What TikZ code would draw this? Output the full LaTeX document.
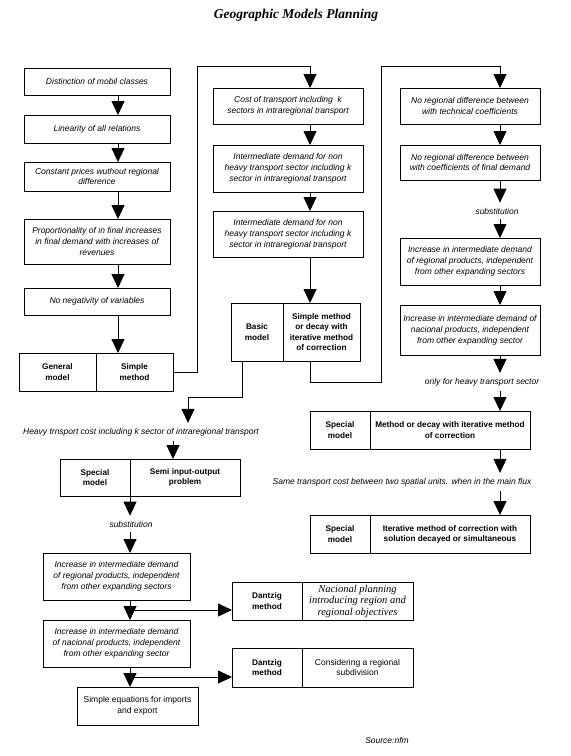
\documentclass[tikz,border=0pt]{standalone}
\usepackage{fontspec}
\setmainfont{Liberation Sans}
\newfontfamily\titlefont{Liberation Serif}
\usetikzlibrary{arrows.meta, positioning, calc}

\begin{document}
\begin{tikzpicture}[x=1pt, y=-1pt,
    box/.style={draw, line width=0.8pt, outer sep=0pt, inner sep=1pt, align=center, anchor=north west,
        font=\fontsize{8.5}{10.8}\selectfont\itshape},
    cell/.style={box, font=\fontsize{8.2}{10.2}\selectfont\bfseries},
    txt/.style={inner sep=5pt, font=\fontsize{8.5}{10.8}\selectfont\itshape},
    arr/.style={line width=0.8pt, -{Triangle[width=13pt, length=14pt]}}]

    \useasboundingbox (0,0) rectangle (571,756);

    % Title
    \node (title) at (296,15) {\titlefont\fontsize{13.5}{15}\selectfont\bfseries\itshape Geographic Models Planning};

    % columns of the arrows
    \coordinate (xl) at (118,0);
    \coordinate (xm) at (310,0);
    \coordinate (xr) at (500,0);
    \coordinate (xb) at (242,0);
    \coordinate (xs) at (173,0);
    \coordinate (xq) at (130,0);

    % Left column
    \node[box, minimum width=146, minimum height=27] (b1) at (24,68) {Distinction of mobil classes};
    \node[box, minimum width=146, minimum height=28] (b2) at (24,115) {Linearity of all relations};
    \node[box, minimum width=146, minimum height=29] (b3) at (24,162) {Constant prices wuthout regional\\difference};
    \node[box, minimum width=146, minimum height=45] (b4) at (24,219) {Proportionality of in final increases\\in final demand with increases of\\revenues};
    \node[box, minimum width=146, minimum height=27] (b5) at (24,288) {No negativity of variables};
    \node[cell, minimum width=77, minimum height=38] (gm1) at (19,353) {General\\model};
    \node[cell, minimum width=77, minimum height=38] (gm2) at (gm1.north east) {Simple\\method};

    \draw[arr] (b1.south -| xl) -- (b2.north -| xl);
    \draw[arr] (b2.south -| xl) -- (b3.north -| xl);
    \draw[arr] (b3.south -| xl) -- (b4.north -| xl);
    \draw[arr] (b4.south -| xl) -- (b5.north -| xl);
    \draw[arr] (b5.south -| xl) -- (gm2.north -| xl);

    % Middle column
    \node[box, minimum width=150, minimum height=36] (c1) at (213,88) {Cost of transport including~ k\\sectors in intraregional transport};
    \node[box, minimum width=150, minimum height=47] (c2) at (213,145) {Intermediate demand for non\\heavy transport sector including k\\sector in intraregional transport};
    \node[box, minimum width=150, minimum height=46] (c3) at (213,211) {Intermediate demand for non\\heavy transport sector including k\\sector in intraregional transport};
    \node[cell, minimum width=52, minimum height=58] (bas1) at (231,303) {Basic\\model};
    \node[cell, minimum width=77, minimum height=58] (bas2) at (bas1.north east) {Simple method\\or decay with\\iterative method\\of correction};

    \coordinate (ltop) at (197,66);
    \draw[arr] (gm2.east) -| (ltop) -| (c1.north -| xm);
    \draw[arr] (c1.south -| xm) -- (c2.north -| xm);
    \draw[arr] (c2.south -| xm) -- (c3.north -| xm);
    \draw[arr] (c3.south -| xm) -- (bas2.north -| xm);

    % Right column
    \node[box, minimum width=140, minimum height=36] (r1) at (400,88) {No regional difference between\\with technical coefficients};
    \node[box, minimum width=140, minimum height=35] (r2) at (400,145) {No regional difference between\\with coefficients of final demand};
    \node[txt] (sub1) at (497,211) {substitution};
    \node[box, minimum width=140, minimum height=47] (r3) at (400,238) {Increase in intermediate demand\\of regional products, independent\\from other expanding sectors};
    \node[box, minimum width=140, minimum height=50] (r4) at (400,305) {Increase in intermediate demand of\\nacional products, independent\\from other expanding sector};
    \node[txt] (only) at (482,382) {only for heavy transport sector};
    \node[cell, minimum width=60, minimum height=38] (sp1a) at (310,411) {Special\\model};
    \node[cell, minimum width=160, minimum height=38] (sp1b) at (sp1a.north east) {Method or decay with iterative method\\of correction};
    \node[txt] (same) at (402,482) {Same transport cost between two spatial units. when in the main flux};
    \node[cell, minimum width=60, minimum height=38] (sp2a) at (310,515) {Special\\model};
    \node[cell, minimum width=160, minimum height=38] (sp2b) at (sp2a.north east) {Iterative method of correction with\\solution decayed or simultaneous};

    \coordinate (rbot) at (381,382);
    \coordinate (rtop) at (381,66);
    \draw[arr] (bas2.south -| xm) |- (rbot) -- (rtop) -| (r1.north -| xr);
    \draw[arr] (r1.south -| xr) -- (r2.north -| xr);
    \draw[arr] (r2.south -| xr) -- (sub1.north -| xr);
    \draw[arr] (sub1.south -| xr) -- (r3.north -| xr);
    \draw[arr] (r3.south -| xr) -- (r4.north -| xr);
    \draw[arr] (r4.south -| xr) -- (only.north -| xr);
    \draw[arr] (only.south -| xr) -- (sp1b.north -| xr);
    \draw[arr] (sp1b.south -| xr) -- (same.north -| xr);
    \draw[arr] (same.south -| xr) -- (sp2b.north -| xr);

    % Lower left
    \node[txt] (heavy) at (141,432) {Heavy trnsport cost including k sector of intraregional transport};
    \node[cell, minimum width=70, minimum height=37] (sio1) at (60,459) {Special\\model};
    \node[cell, minimum width=110, minimum height=37] (sio2) at (sio1.north east) {Semi input-output\\problem};
    \node[txt] (sub2) at (131,524) {substitution};
    \node[box, minimum width=147, minimum height=47] (l1) at (43,553) {Increase in intermediate demand\\of regional products, independent\\from other expanding sectors};
    \node[box, minimum width=147, minimum height=47] (l2) at (43,620) {Increase in intermediate demand\\of nacional products, independent\\from other expanding sector};
    \node[box, minimum width=121, minimum height=38, font=\fontsize{8.5}{10.8}\selectfont] (l3) at (77,687) {Simple equations for imports\\and export};
    \node[cell, minimum width=70, minimum height=38] (d1a) at (232,582) {Dantzig\\method};
    \node[box, minimum width=111, minimum height=38, font=\titlefont\fontsize{10.5}{11.5}\selectfont\itshape] (d1b) at (d1a.north east) {Nacional planning\\introducing region and\\regional objectives};
    \node[cell, minimum width=70, minimum height=39] (d2a) at (232,648) {Dantzig\\method};
    \node[box, minimum width=111, minimum height=39, font=\fontsize{8.5}{10.8}\selectfont] (d2b) at (d2a.north east) {Considering a regional\\subdivision};
    \node[txt] (source) at (387,740) {Source:nfm};

    \coordinate (bbot) at (188,397);
    \draw[arr] (bas1.south -| xb) |- (bbot) -- (heavy.north -| bbot);
    \draw[arr] (heavy.south -| xs) -- (sio2.north -| xs);
    \draw[arr] (sio1.south east) -- (sub2.north -| xq);
    \draw[arr] (sub2.south -| xq) -- (l1.north -| xq);
    \draw[arr] (l1.south -| xq) -- (l2.north -| xq);
    \draw[arr] (l2.south -| xq) -- (l3.north -| xq);
    \coordinate (j1) at ($(l1.south -| xq)!0.5!(l2.north -| xq)$);
    \coordinate (j2) at ($(l2.south -| xq)!0.5!(l3.north -| xq)$);
    \draw[arr] (j1) -- (j1 -| d1a.west);
    \draw[arr] (j2) -- (j2 -| d2a.west);
\end{tikzpicture}
\end{document}
